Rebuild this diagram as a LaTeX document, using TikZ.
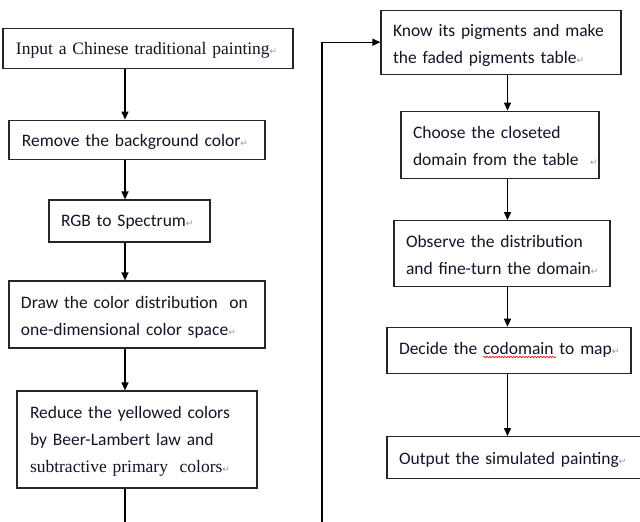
\documentclass[tikz,border=0pt]{standalone}
\usepackage{fontspec}
\setmainfont{Carlito}
\newfontfamily\serifface{Liberation Serif}
\newfontfamily\symface{DejaVu Sans}
\usetikzlibrary{arrows.meta,decorations.pathmorphing}
\definecolor{txtcol}{RGB}{20,20,40}
\definecolor{markcol}{RGB}{150,150,150}
\newcommand{\retmark}{{\symface\fontsize{9}{9}\selectfont\textcolor{markcol}{↵}}}
\tikzset{
  stepbox/.style={draw=black!85, line width=1.2pt, inner xsep=0pt, inner ysep=0pt,
    align=left, text=txtcol, font=\fontsize{17.5}{27}\selectfont},
  arr/.style={draw=black, line width=1.2pt, -{Triangle[width=7pt,length=8pt]}},
  plainline/.style={draw=black, line width=1.2pt}
}
\begin{document}
\begin{tikzpicture}[x=1pt,y=-1pt]
\clip (0,0) rectangle (640,522);
\fill[white] (0,0) rectangle (640,522);
% left column
\node[stepbox, text width=290pt, minimum height=40pt, text height=20pt, text depth=8pt,
      font=\serifface\fontsize{17.5}{27}\selectfont] (b1) at (148,48.3)
  {\hspace*{13pt}Input a Chinese traditional painting\retmark};
\node[stepbox, text width=256pt, minimum height=39pt, text height=21pt, text depth=7pt] (b2) at (137,139.7)
  {\hspace*{13pt}Remove the background color\retmark};
\node[stepbox, text width=161pt, minimum height=42pt, text height=19.7pt, text depth=8.3pt] (b3) at (129.5,221)
  {\hspace*{12pt}RGB to Spectrum\retmark};
\node[stepbox, text width=256pt, minimum height=67pt, text height=18.8pt, text depth=31.2pt] (b4) at (137,314.5)
  {\hspace*{12pt}Draw the color distribution\ \ on\\
   \hspace*{12pt}one-dimensional color space\retmark};
\node[stepbox, text width=240pt, minimum height=97pt, text height=3.8pt, text depth=46.2pt] (b5) at (137,439.5)
  {\hspace*{13pt}Reduce the yellowed colors\\
   \hspace*{13pt}by Beer-Lambert law and\\
   \hspace*{13pt}{\serifface\fontsize{17.5}{27}\selectfont subtractive primary\ \ colors}\retmark};
% right column
\node[stepbox, text width=240pt, minimum height=64pt, text height=19.5pt, text depth=30.5pt] (b6) at (501,42.2)
  {\hspace*{12pt}Know its pigments and make\\
   \hspace*{12pt}the faded pigments table\retmark};
\node[stepbox, text width=198pt, minimum height=67pt, text height=18.6pt, text depth=31.4pt] (b7) at (500,144.7)
  {\hspace*{12pt}Choose the closeted\\
   \hspace*{12pt}domain from the table\ \ \retmark};
\node[stepbox, text width=216pt, minimum height=66pt, text height=19pt, text depth=31pt] (b8) at (502,253.7)
  {\hspace*{12pt}Observe the distribution\\
   \hspace*{12pt}and fine-turn the\ domain\retmark};
\node[stepbox, text width=244pt, minimum height=46pt, text height=17.7pt, text depth=10.3pt] (b9) at (509,350.3)
  {\hspace*{12pt}Decide the codomain to map\retmark};
\node[stepbox, text width=273pt, minimum height=41.6pt, text height=20.5pt, text depth=7.5pt] (b10) at (523.5,457.5)
  {\hspace*{12pt}Output the\ simulated painting\retmark};
% spell-check underline
\coordinate (sq1) at (483,357);
\coordinate (sq2) at (556,357);
\draw[red, line width=0.6pt, decorate, decoration={snake, amplitude=0.8pt, segment length=3pt}] (sq1) -- (sq2);
% connector guides
\coordinate (lc) at (125,0);
\coordinate (rc) at (507.5,0);
\coordinate (lend) at (125,540);
\coordinate (rstart) at (322,540);
\coordinate (rturn) at (322,42.2);
% left arrows
\draw[arr] (b1.south -| lc) -- (b2.north -| lc);
\draw[arr] (b2.south -| lc) -- (b3.north -| lc);
\draw[arr] (b3.south -| lc) -- (b4.north -| lc);
\draw[arr] (b4.south -| lc) -- (b5.north -| lc);
\draw[plainline] (b5.south -| lc) -- (lend);
% loop to right column
\draw[arr] (rstart) -- (rturn) -- (b6.west);
% right arrows
\draw[arr] (b6.south -| rc) -- (b7.north -| rc);
\draw[arr] (b7.south -| rc) -- (b8.north -| rc);
\draw[arr] (b8.south -| rc) -- (b9.north -| rc);
\draw[arr] (b9.south -| rc) -- (b10.north -| rc);
\end{tikzpicture}
\end{document}
